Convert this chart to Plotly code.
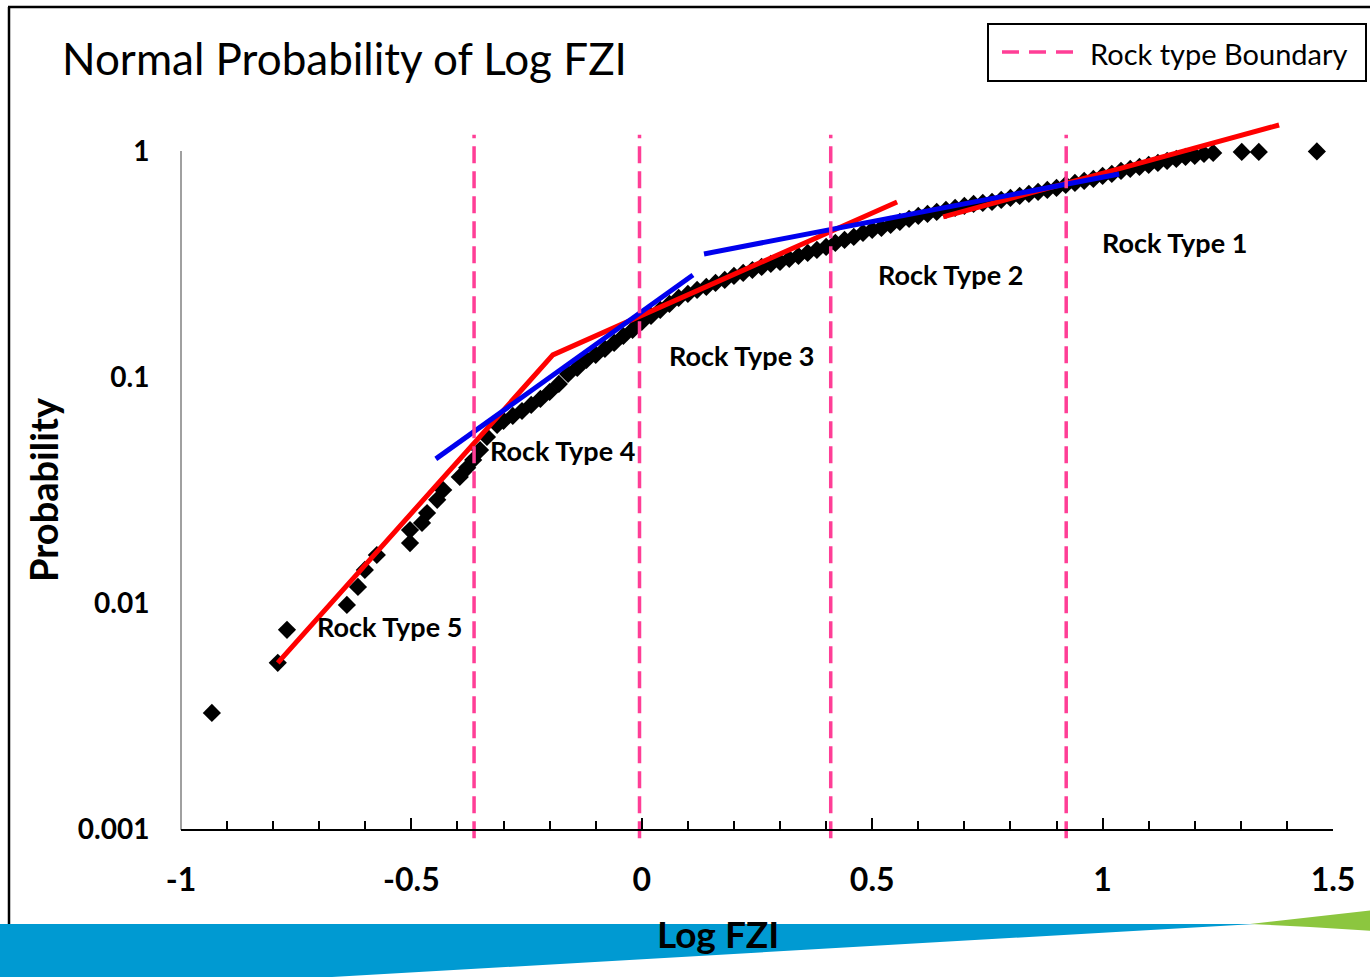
import math
import plotly.graph_objects as go

# ---------------- data ----------------
log_fzi = [-0.933, -0.790, -0.770, -0.640, -0.616, -0.601, -0.575, -0.503, -0.503,
           -0.477, -0.466, -0.444, -0.431, -0.395, -0.379, -0.366, -0.351, -0.336,
           -0.314,
           -0.30, -0.28, -0.26, -0.24, -0.22, -0.20, -0.18, -0.16, -0.14, -0.12,
           -0.10, -0.08, -0.06, -0.04, -0.02, 0.00, 0.02, 0.04, 0.06, 0.08,
           0.10, 0.12, 0.14, 0.16, 0.18, 0.20, 0.22, 0.24, 0.26, 0.28,
           0.30, 0.32, 0.34, 0.36, 0.38, 0.40, 0.42, 0.44, 0.46, 0.48,
           0.50, 0.52, 0.54, 0.56, 0.58, 0.60, 0.62, 0.64, 0.66, 0.68,
           0.70, 0.72, 0.74, 0.76, 0.78, 0.80, 0.82, 0.84, 0.86, 0.88,
           0.90, 0.92, 0.94, 0.96, 0.98, 1.00, 1.02, 1.04, 1.06, 1.08,
           1.10, 1.12, 1.14, 1.16, 1.18, 1.20, 1.22, 1.24,
           1.302, 1.339, 1.465]
probability = [0.00326, 0.00543, 0.0076, 0.0098, 0.01177, 0.0140, 0.0163, 0.0184, 0.0210,
               0.0226, 0.0250, 0.0286, 0.0316, 0.0361, 0.0396, 0.0429, 0.0475, 0.0543,
               0.0613,
               0.0639, 0.0672, 0.0707, 0.0752, 0.0799, 0.0858, 0.0931, 0.1031, 0.1096, 0.1189,
               0.1252, 0.1330, 0.1414, 0.1518, 0.1614, 0.1751, 0.1862, 0.1979, 0.2104, 0.2237,
               0.2330, 0.2427, 0.2502, 0.2606, 0.2687, 0.2798, 0.2885, 0.2974, 0.3067, 0.3162,
               0.3227, 0.3327, 0.3430, 0.3537, 0.3647, 0.3760, 0.3916, 0.4038, 0.4163, 0.4336,
               0.4472, 0.4564, 0.4706, 0.4852, 0.5003, 0.5158, 0.5264, 0.5373, 0.5483, 0.5596,
               0.5711, 0.5829, 0.5888, 0.5948, 0.6071, 0.6195, 0.6323, 0.6453, 0.6586, 0.6721,
               0.6860, 0.7073, 0.7218, 0.7366, 0.7518, 0.7751, 0.7910, 0.8156, 0.8324, 0.8495,
               0.8670, 0.8849, 0.9031, 0.9217, 0.9407, 0.9504, 0.9699, 0.9798,
               0.990, 0.990, 0.995]

# fitted trend segments
red_fit_x = [[-0.790, -0.193, 0.554], [0.654, 1.383]]
red_fit_p = [[0.00543, 0.1252, 0.5948], [0.5105, 1.303]]
blue_fit_x = [[-0.447, 0.111], [0.135, 1.036]]
blue_fit_p = [[0.0434, 0.2827], [0.3501, 0.7910]]

# rock type boundaries (Log FZI)
boundaries = [-0.364, -0.005, 0.41, 0.921]
boundary_span = [0.00091, 1.18]

rock_types = ["Rock Type 1", "Rock Type 2", "Rock Type 3", "Rock Type 4", "Rock Type 5"]
label_x = [1.155, 0.669, 0.217, -0.173, -0.5465]
label_p = [0.392, 0.283, 0.125, 0.0471, 0.00783]

x_ticks = [-1, -0.5, 0, 0.5, 1, 1.5]
x_ticktext = ["-1", "-0.5", "0", "0.5", "1", "1.5"]
y_ticks = [0.001, 0.01, 0.1, 1]
y_ticktext = ["0.001", "0.01", "0.1", "1"]

# ---------------- layout geometry ----------------
W, H = 1370, 977
ML, MR, MT, MB = 181, 37, 120, 137
PW, PH = W - ML - MR, H - MT - MB


def px(xp):
    return (xp - ML) / PW


def py(yp):
    return (H - MB - yp) / PH


FONT = "Lato"
PINK = "#FF3E96"

fig = go.Figure()

fig.add_trace(go.Scatter(
    x=log_fzi, y=probability, mode="markers",
    marker=dict(symbol="diamond", size=14, color="black", line=dict(width=0)),
    cliponaxis=False, showlegend=False, hoverinfo="x+y"))

for xs, ps in zip(red_fit_x, red_fit_p):
    fig.add_trace(go.Scatter(x=xs, y=ps, mode="lines",
                             line=dict(color="#FF0000", width=5),
                             cliponaxis=False, showlegend=False))
for xs, ps in zip(blue_fit_x, blue_fit_p):
    fig.add_trace(go.Scatter(x=xs, y=ps, mode="lines",
                             line=dict(color="#0000EE", width=5),
                             cliponaxis=False, showlegend=False))

bx, by = [], []
for b in boundaries:
    bx += [b, b, None]
    by += [boundary_span[0], boundary_span[1], None]
fig.add_trace(go.Scatter(x=bx, y=by, mode="lines",
                         line=dict(color=PINK, width=3.5, dash="17px,8px"),
                         cliponaxis=False, showlegend=False,
                         name="Rock type Boundary"))

annotations = []
for name, lx, lp in zip(rock_types, label_x, label_p):
    annotations.append(dict(x=lx, y=math.log10(lp), xref="x", yref="y", text=name,
                            showarrow=False, xanchor="center", yanchor="middle",
                            font=dict(family=FONT, size=27, color="black", weight="bold")))

annotations += [
    dict(x=px(60), y=py(58), xref="paper", yref="paper", xanchor="left", yanchor="middle",
         text="Normal Probability of Log FZI", showarrow=False,
         font=dict(family=FONT, size=44, color="black")),
    dict(x=px(43), y=py(490), xref="paper", yref="paper", textangle=-90,
         xanchor="center", yanchor="middle",
         text="Probability", showarrow=False,
         font=dict(family=FONT, size=38, color="black", weight="bold")),
    dict(x=px(718), y=py(933), xref="paper", yref="paper",
         xanchor="center", yanchor="middle",
         text="Log FZI", showarrow=False,
         font=dict(family=FONT, size=37, color="black", weight="bold")),
    dict(x=px(1088), y=py(53), xref="paper", yref="paper", xanchor="left", yanchor="middle",
         text="Rock type Boundary", showarrow=False,
         font=dict(family=FONT, size=29, color="black")),
]

shapes = [
    # slide background: blue swoosh and green sliver
    dict(type="path", xref="paper", yref="paper", layer="below",
         path=f"M {px(-5)},{py(924)} L {px(1255)},{py(924)} L {px(332)},{py(977)} "
              f"L {px(300)},{py(990)} L {px(-5)},{py(990)} Z",
         fillcolor="#009AD2", line=dict(width=0)),
    dict(type="path", xref="paper", yref="paper", layer="below",
         path=f"M {px(1250)},{py(924)} L {px(1375)},{py(910)} L {px(1375)},{py(931)} "
              f"L {px(1310)},{py(927)} Z",
         fillcolor="#8CC63F", line=dict(width=0)),
    # slide frame
    dict(type="line", xref="paper", yref="paper", x0=px(9), x1=px(9), y0=py(7), y1=py(924),
         line=dict(color="black", width=2.5), layer="below"),
    dict(type="line", xref="paper", yref="paper", x0=px(8), x1=px(1375), y0=py(7), y1=py(7),
         line=dict(color="black", width=2.5), layer="below"),
    # y axis line
    dict(type="line", xref="paper", yref="paper", x0=0, x1=0, y0=py(830), y1=py(151),
         line=dict(color="#A0A0A0", width=2), layer="below"),
    # legend box
    dict(type="rect", xref="paper", yref="paper", x0=px(988), x1=px(1366), y0=py(24), y1=py(81),
         line=dict(color="black", width=2), fillcolor="white", layer="below"),
    dict(type="line", xref="paper", yref="paper", x0=px(1002), x1=px(1074), y0=py(52), y1=py(52),
         line=dict(color=PINK, width=3.5, dash="17px,10px")),
]

fig.update_layout(
    width=W, height=H, autosize=False,
    margin=dict(l=ML, r=MR, t=MT, b=MB, pad=0),
    paper_bgcolor="white", plot_bgcolor="white",
    showlegend=False,
    annotations=annotations, shapes=shapes,
    xaxis=dict(range=[-1, 1.5], anchor="free", position=py(830),
               showline=True, linecolor="black", linewidth=2,
               ticks="inside", ticklen=11, tickwidth=2, tickcolor="black",
               tickmode="array", tickvals=x_ticks, ticktext=x_ticktext,
               tickfont=dict(family=FONT, size=32, color="black", weight="bold"),
               ticklabelstandoff=22,
               minor=dict(ticks="inside", ticklen=8, tickwidth=2, tickcolor="black",
                          dtick=0.1, tick0=0, showgrid=False),
               showgrid=False, zeroline=False),
    yaxis=dict(type="log", range=[math.log10(0.001) - 0.049, 0.137],
               anchor="free", position=0,
               showline=False, showgrid=False, zeroline=False,
               tickmode="array", tickvals=y_ticks, ticktext=y_ticktext,
               ticks="outside", ticklen=26, tickcolor="rgba(0,0,0,0)",
               tickfont=dict(family=FONT, size=28, color="black", weight="bold")),
)

fig.write_html("out.html", config={"displayModeBar": False},
               post_script="document.body.style.margin='0';")
